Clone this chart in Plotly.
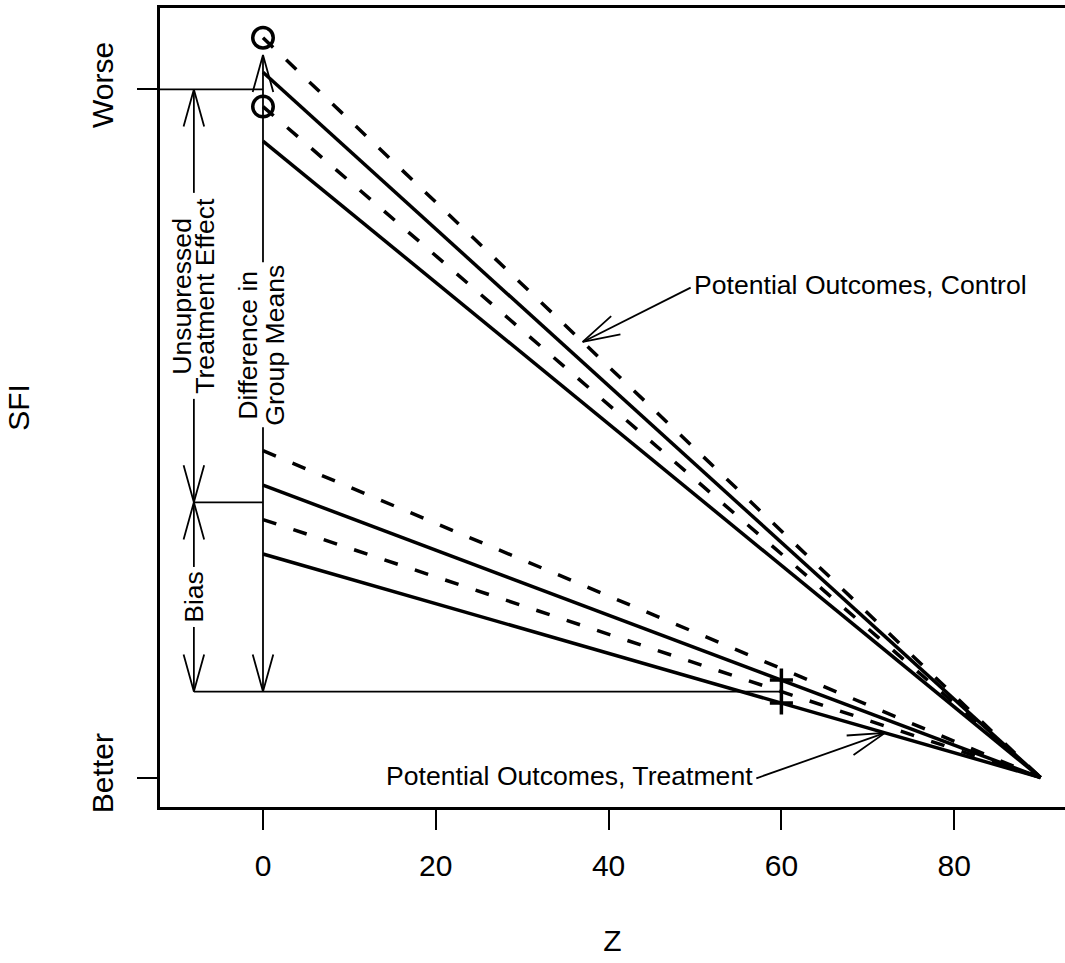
import math
import plotly.graph_objects as go

# ---------------- data ----------------
z_start = 0
z_end = 90
y_end = 0.0                         # all lines converge at (90, Better)
ctrl_dashed_y0 = [1.075, 0.975]     # control potential outcomes (dashed, circles)
ctrl_solid_y0 = [1.025, 0.925]      # control (solid)
trt_dashed_y0 = [0.475, 0.375]      # treatment (dashed)
trt_solid_y0 = [0.425, 0.325]       # treatment (solid, crosses at z=60)
trt_obs_z = 60

y_tick_vals = [0.0, 1.0]
y_tick_text = ["Better", "Worse"]
x_tick_vals = [0, 20, 40, 60, 80]

worse_level = 1.0       # mean control at z=0
trt_mean_z0 = 0.40      # mean treatment at z=0
trt_obs_mean = 0.125    # mean of treatment solids at z=60
bias_x = -8
diff_top = 1.05

ctrl_arrow_tip_z = 37
ctrl_text_pos = [49.6, 0.716]
trt_arrow_tip_z = 72
trt_text_pos = [57.0, 0.002]

# ---------------- layout constants ----------------
W, H = 1065, 963
ML, MR, MT, MB = 160, 0, 8, 156
XR = [-11.92, -11.92 + (W - ML - MR) / 8.64]
YR = [-0.0427, 1.1183]
PX_X = (W - ML - MR) / (XR[1] - XR[0])
PX_Y = (H - MT - MB) / (YR[1] - YR[0])

FONT = "Liberation Sans, Arial, Helvetica, sans-serif"
AX_FS = 30
TX_FS = 26.6

fig = go.Figure()


def line_y(y0, z):
    return y0 + (y_end - y0) * (z - z_start) / (z_end - z_start)


# main lines
for y0 in ctrl_solid_y0 + trt_solid_y0:
    fig.add_trace(go.Scatter(x=[z_start, z_end], y=[y0, y_end], mode="lines",
                             line=dict(color="black", width=3.5), showlegend=False,
                             hoverinfo="skip"))
for y0 in ctrl_dashed_y0 + trt_dashed_y0:
    fig.add_trace(go.Scatter(x=[z_start, z_end], y=[y0, y_end], mode="lines",
                             line=dict(color="black", width=3.5, dash="14px,18px"),
                             showlegend=False, hoverinfo="skip"))

# circles on control dashed at z=0
fig.add_trace(go.Scatter(x=[z_start] * len(ctrl_dashed_y0), y=ctrl_dashed_y0, mode="markers",
                         marker=dict(symbol="circle-open", size=20.5, color="black",
                                     line=dict(width=3.5, color="black")),
                         showlegend=False, hoverinfo="skip"))
# crosses on treatment solid at z=60
fig.add_trace(go.Scatter(x=[trt_obs_z] * len(trt_solid_y0),
                         y=[line_y(v, trt_obs_z) for v in trt_solid_y0], mode="markers",
                         marker=dict(symbol="cross-thin-open", size=16.5, color="black",
                                     line=dict(width=3.5, color="black")),
                         showlegend=False, hoverinfo="skip"))

# ---------------- annotation segments ----------------
ax_x, ax_y = [], []


def seg(x0, y0, x1, y1):
    ax_x.extend([x0, x1, None])
    ax_y.extend([y0, y1, None])


def head(tip, tail, L=38.5, ang=15.5):
    dx = (tail[0] - tip[0]) * PX_X
    dy = (tail[1] - tip[1]) * PX_Y
    n = math.hypot(dx, dy)
    ux, uy = dx / n, dy / n
    a = math.radians(ang)
    pts = []
    for s in (1, -1):
        rx = ux * math.cos(s * a) - uy * math.sin(s * a)
        ry = ux * math.sin(s * a) + uy * math.cos(s * a)
        pts.append((tip[0] + rx * L / PX_X, tip[1] + ry * L / PX_Y))
    ax_x.extend([pts[0][0], tip[0], pts[1][0], None])
    ax_y.extend([pts[0][1], tip[1], pts[1][1], None])


def vdouble(x, ylo, yhi, yc, gap_px):
    g = gap_px / PX_Y
    seg(x, ylo, x, yc - g)
    seg(x, yc + g, x, yhi)
    head((x, yhi), (x, ylo))
    head((x, ylo), (x, yhi))


# horizontal reference lines
seg(XR[0], worse_level, z_start, worse_level)
seg(bias_x, trt_mean_z0, z_start, trt_mean_z0)
seg(bias_x, trt_obs_mean, trt_obs_z, trt_obs_mean)

# vertical double arrows
unsup_c = (worse_level + trt_mean_z0) / 2
bias_c = (trt_mean_z0 + trt_obs_mean) / 2
diff_c = 0.629
vdouble(bias_x, trt_mean_z0, worse_level, unsup_c, 103)
vdouble(bias_x, trt_obs_mean, trt_mean_z0, bias_c, 30)
vdouble(z_start, trt_obs_mean, diff_top, diff_c, 82.5)

# pointer arrows
ctrl_tip = (ctrl_arrow_tip_z, line_y(ctrl_dashed_y0[0], ctrl_arrow_tip_z))
ctrl_tail = (ctrl_text_pos[0] - 0.1, ctrl_text_pos[1] - 0.004)
seg(ctrl_tail[0], ctrl_tail[1], ctrl_tip[0], ctrl_tip[1])
head(ctrl_tip, ctrl_tail)

trt_tip = (trt_arrow_tip_z, line_y(trt_solid_y0[1], trt_arrow_tip_z))
trt_tail = (trt_text_pos[0] + 0.1, trt_text_pos[1] - 0.003)
seg(trt_tail[0], trt_tail[1], trt_tip[0], trt_tip[1])
head(trt_tip, trt_tail)

fig.add_trace(go.Scatter(x=ax_x, y=ax_y, mode="lines",
                         line=dict(color="black", width=1.8), showlegend=False,
                         hoverinfo="skip"))

# ---------------- text ----------------
tfont = dict(family=FONT, size=TX_FS, color="black")
anns = [
    dict(x=ctrl_text_pos[0], y=ctrl_text_pos[1], text="Potential Outcomes, Control",
         xanchor="left", yanchor="middle"),
    dict(x=trt_text_pos[0], y=trt_text_pos[1], text="Potential Outcomes, Treatment",
         xanchor="right", yanchor="middle"),
    dict(x=bias_x, y=unsup_c, text="Unsupressed", textangle=-90, xshift=-12),
    dict(x=bias_x, y=unsup_c, text="Treatment Effect", textangle=-90, xshift=11),
    dict(x=bias_x, y=bias_c, text="Bias", textangle=-90),
    dict(x=z_start, y=diff_c, text="Difference in", textangle=-90, xshift=-15),
    dict(x=z_start, y=diff_c, text="Group Means", textangle=-90, xshift=12),
]
for a in anns:
    a.setdefault("xanchor", "center")
    a.setdefault("yanchor", "middle")
    fig.add_annotation(xref="x", yref="y", showarrow=False, font=tfont, **a)

fig.update_layout(
    width=W, height=H,
    margin=dict(l=ML, r=MR, t=MT, b=MB),
    paper_bgcolor="white", plot_bgcolor="white",
    font=dict(family=FONT, size=AX_FS, color="black"),
    showlegend=False,
    xaxis=dict(range=XR, tickvals=x_tick_vals, showgrid=False, zeroline=False,
               showline=True, mirror=True, linecolor="black", linewidth=2.5,
               ticks="outside", ticklen=20, tickwidth=2, tickcolor="black",
               tickfont=dict(family=FONT, size=AX_FS), ticklabelstandoff=10,
               title=dict(text="Z", font=dict(family=FONT, size=AX_FS), standoff=50)),
    yaxis=dict(range=YR, tickvals=y_tick_vals, ticktext=y_tick_text, tickangle=-90,
               showgrid=False, zeroline=False,
               showline=True, mirror=False, linecolor="black", linewidth=2.5,
               ticks="outside", ticklen=20, tickwidth=2, tickcolor="black",
               tickfont=dict(family=FONT, size=AX_FS), ticklabelstandoff=12,
               title=dict(text="SFI", font=dict(family=FONT, size=AX_FS), standoff=48)),
)

fig.write_html("out.html", config={"displayModeBar": False},
               post_script="document.body.style.margin='0px';")
